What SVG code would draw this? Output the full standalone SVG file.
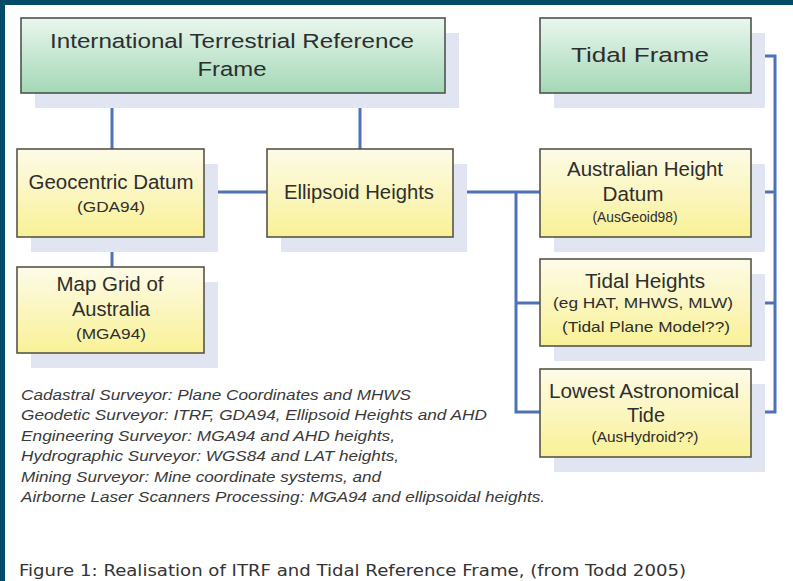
<svg xmlns="http://www.w3.org/2000/svg" width="793" height="581" viewBox="0 0 793 581">
<defs>
<linearGradient id="gGreen" x1="0" y1="0" x2="0" y2="1">
<stop offset="0" stop-color="#eaf6ee"/>
<stop offset="1" stop-color="#a3d8b6"/>
</linearGradient>
<linearGradient id="gYellow" x1="0" y1="0" x2="0" y2="1">
<stop offset="0" stop-color="#fdfbe8"/>
<stop offset="1" stop-color="#f9f196"/>
</linearGradient>
</defs>
<style>
.shadow{fill:#e0e5f1}
.green{fill:url(#gGreen);stroke:#4d5550;stroke-width:1.6}
.yellow{fill:url(#gYellow);stroke:#55554a;stroke-width:1.6}
.t{font-family:"Liberation Sans",Arial,sans-serif;fill:#2e2e2e;text-anchor:middle}
.h{font-size:20.5px}
.s{font-size:14.5px}
.note{font-family:"Liberation Sans",Arial,sans-serif;font-style:italic;font-size:14px;fill:#3a3a3a}
.cap{font-family:"DejaVu Sans",Verdana,sans-serif;font-size:15.5px;fill:#333}
.conn{fill:none;stroke:#4f72b6;stroke-width:3}
</style>
<rect x="0" y="0" width="793" height="581" fill="#ffffff"/>
<rect x="0" y="0" width="793" height="5" fill="#014b69"/>
<rect x="0" y="0" width="5" height="581" fill="#014b69"/>

<g id="connectors">
<path class="conn" d="M112 93 V149"/>
<path class="conn" d="M360 93 V149"/>
<path class="conn" d="M204 192 H267"/>
<path class="conn" d="M112 237 V267"/>
<path class="conn" d="M453 192 H540"/>
<path class="conn" d="M516 192 V412 H540"/>
<path class="conn" d="M516 303 H540"/>
<path class="conn" d="M749 56 H775 V412 H749"/>
<path class="conn" d="M749 192 H775"/>
<path class="conn" d="M749 303 H775"/>
</g>

<g id="itrf">
<rect class="shadow" x="35" y="33" width="424" height="75"/>
<rect class="green" x="21" y="18" width="424" height="75"/>
<text class="t h" x="232" y="48" textLength="364" lengthAdjust="spacingAndGlyphs">International Terrestrial Reference</text>
<text class="t h" x="232" y="76" textLength="69" lengthAdjust="spacingAndGlyphs">Frame</text>
</g>

<g id="tidal-frame">
<rect class="shadow" x="554" y="33" width="211" height="75"/>
<rect class="green" x="540" y="18" width="211" height="75"/>
<text class="t h" x="640" y="62" textLength="138" lengthAdjust="spacingAndGlyphs">Tidal Frame</text>
</g>

<g id="geocentric-datum">
<rect class="shadow" x="31" y="164" width="187" height="88"/>
<rect class="yellow" x="17" y="149" width="187" height="88"/>
<text class="t h" x="111" y="189" textLength="165" lengthAdjust="spacingAndGlyphs">Geocentric Datum</text>
<text class="t s" x="111" y="212" textLength="68" lengthAdjust="spacingAndGlyphs">(GDA94)</text>
</g>

<g id="ellipsoid-heights">
<rect class="shadow" x="281" y="164" width="186" height="88"/>
<rect class="yellow" x="267" y="149" width="186" height="88"/>
<text class="t h" x="359" y="199" textLength="150" lengthAdjust="spacingAndGlyphs">Ellipsoid Heights</text>
</g>

<g id="australian-height-datum">
<rect class="shadow" x="554" y="164" width="211" height="88"/>
<rect class="yellow" x="540" y="149" width="211" height="88"/>
<text class="t h" x="645" y="176" textLength="156" lengthAdjust="spacingAndGlyphs">Australian Height</text>
<text class="t h" x="633" y="201" textLength="61" lengthAdjust="spacingAndGlyphs">Datum</text>
<text class="t s" x="635" y="222" textLength="85" lengthAdjust="spacingAndGlyphs">(AusGeoid98)</text>
</g>

<g id="tidal-heights">
<rect class="shadow" x="554" y="274" width="211" height="87"/>
<rect class="yellow" x="540" y="259" width="211" height="87"/>
<text class="t h" x="645" y="288" textLength="120" lengthAdjust="spacingAndGlyphs">Tidal Heights</text>
<text class="t s" x="643" y="308" textLength="180" lengthAdjust="spacingAndGlyphs">(eg HAT, MHWS, MLW)</text>
<text class="t s" x="646" y="332" textLength="168" lengthAdjust="spacingAndGlyphs">(Tidal Plane Model??)</text>
</g>

<g id="lowest-astronomical-tide">
<rect class="shadow" x="554" y="384" width="211" height="88"/>
<rect class="yellow" x="540" y="369" width="211" height="88"/>
<text class="t h" x="644" y="398" textLength="190" lengthAdjust="spacingAndGlyphs">Lowest Astronomical</text>
<text class="t h" x="646" y="422" textLength="38" lengthAdjust="spacingAndGlyphs">Tide</text>
<text class="t s" x="645" y="442" textLength="107" lengthAdjust="spacingAndGlyphs">(AusHydroid??)</text>
</g>

<g id="map-grid-of-australia">
<rect class="shadow" x="31" y="282" width="187" height="86"/>
<rect class="yellow" x="17" y="267" width="187" height="86"/>
<text class="t h" x="110" y="291" textLength="107" lengthAdjust="spacingAndGlyphs">Map Grid of</text>
<text class="t h" x="111" y="316" textLength="78" lengthAdjust="spacingAndGlyphs">Australia</text>
<text class="t s" x="111" y="339" textLength="70" lengthAdjust="spacingAndGlyphs">(MGA94)</text>
</g>

<g id="notes">
<text class="note" x="21" y="400" textLength="390" lengthAdjust="spacingAndGlyphs">Cadastral Surveyor: Plane Coordinates and MHWS</text>
<text class="note" x="21" y="420" textLength="466" lengthAdjust="spacingAndGlyphs">Geodetic Surveyor: ITRF, GDA94, Ellipsoid Heights and AHD</text>
<text class="note" x="21" y="441" textLength="374" lengthAdjust="spacingAndGlyphs">Engineering Surveyor: MGA94 and AHD heights,</text>
<text class="note" x="21" y="461" textLength="378" lengthAdjust="spacingAndGlyphs">Hydrographic Surveyor: WGS84 and LAT heights,</text>
<text class="note" x="21" y="482" textLength="360" lengthAdjust="spacingAndGlyphs">Mining Surveyor: Mine coordinate systems, and</text>
<text class="note" x="21" y="502" textLength="524" lengthAdjust="spacingAndGlyphs">Airborne Laser Scanners Processing: MGA94 and ellipsoidal heights.</text>
</g>

<g id="caption">
<text class="cap" x="19" y="576" textLength="667" lengthAdjust="spacingAndGlyphs">Figure 1: Realisation of ITRF and Tidal Reference Frame, (from Todd 2005)</text>
</g>
</svg>
